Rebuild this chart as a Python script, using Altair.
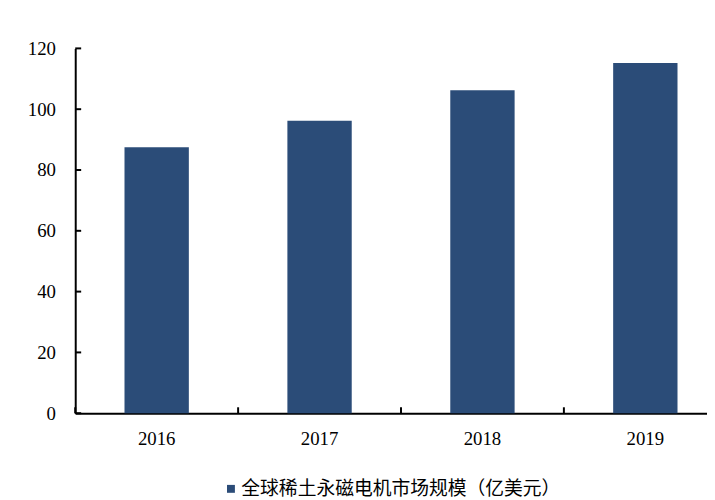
import altair as alt
import pandas as pd

years = ["2016", "2017", "2018", "2019"]
values = [87.5, 96.2, 106.2, 115.2]
series_name = "全球稀土永磁电机市场规模（亿美元）"
y_ticks = [0, 20, 40, 60, 80, 100, 120]

df = pd.DataFrame({"year": years, "value": values, "series": [series_name] * len(years)})
ytick_df = pd.DataFrame({"v": y_ticks})

PLOT_W = 631
BAND_RANGE = 659
PLOT_H = 369
BAR_COLOR = "#2b4c78"
NUM_FONT = "Liberation Serif"
CJK_FONT = "Noto Sans CJK SC"

xscale = alt.Scale(domain=years, range=[0, BAND_RANGE], paddingInner=0, paddingOuter=0)
yscale = alt.Scale(domain=[0, 120], nice=False)

x_axis = alt.Axis(
    title=None, labelAngle=0, labelFont=NUM_FONT, labelFontSize=19, labelColor="#000000",
    labelPadding=17, ticks=False, tickSize=0, domainColor="#000000", domainWidth=2, grid=False,
)
y_axis = alt.Axis(
    title=None, values=y_ticks, labelFont=NUM_FONT, labelFontSize=19, labelColor="#000000",
    labelPadding=20, ticks=False, tickSize=0, domainColor="#000000", domainWidth=2, grid=False,
)

bars = alt.Chart(df).mark_bar(width=alt.RelativeBandSize(0.395)).encode(
    x=alt.X("year:N", scale=xscale, sort=years, axis=x_axis),
    y=alt.Y("value:Q", scale=yscale, axis=y_axis),
    color=alt.Color(
        "series:N",
        scale=alt.Scale(domain=[series_name], range=[BAR_COLOR]),
        legend=alt.Legend(
            title=None, orient="none", legendX=148, legendY=436, symbolType="square",
            symbolSize=64, symbolStrokeWidth=0, labelFont=CJK_FONT, labelFontSize=19,
            labelColor="#000000", labelOffset=1, padding=0, labelLimit=0,
        ),
    ),
)

x_ticks = alt.Chart(df).mark_rule(color="#000000", strokeWidth=2).encode(
    x=alt.X("year:N", scale=xscale, sort=years, axis=x_axis, bandPosition=0),
    y=alt.value(PLOT_H),
    y2=alt.value(PLOT_H - 6),
)

y_tick_marks = alt.Chart(ytick_df).mark_rule(color="#000000", strokeWidth=2).encode(
    y=alt.Y("v:Q", scale=yscale, axis=y_axis),
    x=alt.value(0),
    x2=alt.value(6),
)

chart = alt.layer(bars, x_ticks, y_tick_marks).properties(
    width=PLOT_W,
    height=PLOT_H,
    autosize=alt.AutoSizeParams(type="none"),
    padding={"left": 68, "top": 38, "right": 8, "bottom": 92},
    background="#ffffff",
).configure_view(stroke=None)

chart.save("out.html", embed_options={"renderer": "svg", "actions": False})
